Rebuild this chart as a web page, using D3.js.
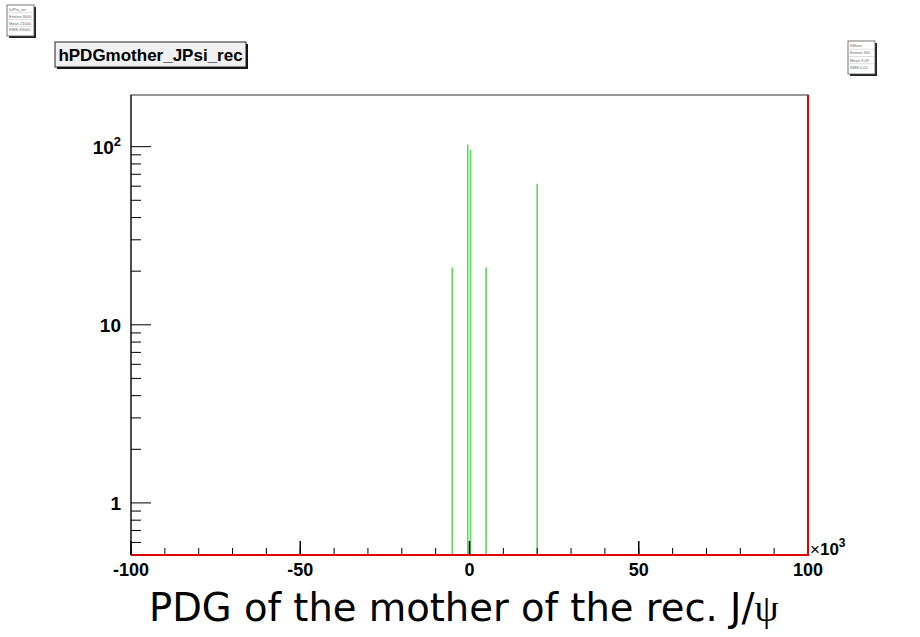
<!DOCTYPE html>
<html>
<head>
<meta charset="utf-8">
<script src="https://cdn.jsdelivr.net/npm/d3@7"></script>
<style>
  body { margin: 0; background: #fff; }
  svg { display: block; }
</style>
</head>
<body>
<div id="chart"></div>
<script>
// histogram spikes (bin centre in PDG code, entries)
const pdgCodes = [-5100, -520, 300, 4900, 20000];
const entries = [21, 103, 96, 21, 62];

const xMajorTicks = [-100000, -50000, 0, 50000, 100000];
const xTickLabels = ['-100', '-50', '0', '50', '100'];
const yMajorTicks = [1, 10, 100];
const yMinorTicks = [0.6, 0.7, 0.8, 0.9, 2, 3, 4, 5, 6, 7, 8, 9, 20, 30, 40, 50, 60, 70, 80, 90];

const histTitle = 'hPDGmother_JPsi_rec';

const width = 920;
const height = 637;

const margin = { top: 95, right: 112, bottom: 82, left: 131 };
const innerWidth = width - margin.left - margin.right;
const innerHeight = height - margin.top - margin.bottom;

const xScale = d3.scaleLinear()
  .domain([-100000, 100000])
  .range([0, innerWidth]);

const yScale = d3.scaleLog()
  .domain([0.51, 195])
  .range([innerHeight, 0]);

const svg = d3.select('#chart')
  .append('svg')
    .attr('width', width)
    .attr('height', height);

// little stat boxes in the corners
const statBox = (x, y, w, h, lines) => {
  const g = svg.append('g').attr('transform', `translate(${x}, ${y})`);
  g.append('rect').attr('x', 2).attr('y', 2).attr('width', w).attr('height', h).attr('fill', '#222');
  g.append('rect').attr('width', w).attr('height', h).attr('fill', '#fff').attr('stroke', '#555').attr('stroke-width', 0.8);
  lines.forEach((t, i) => {
    g.append('text')
      .attr('x', 2)
      .attr('y', 6 + i * (h - 4) / lines.length)
      .attr('font-family', 'Liberation Sans, Arial, sans-serif')
      .attr('font-size', 4)
      .attr('fill', '#666')
      .text(t);
    if (i > 0) {
      g.append('line')
        .attr('x1', 0).attr('x2', w)
        .attr('y1', 1 + i * (h - 4) / lines.length)
        .attr('y2', 1 + i * (h - 4) / lines.length)
        .attr('stroke', '#bbb').attr('stroke-width', 0.5);
    }
  });
};

statBox(7, 5, 27, 31, ['hJPsi_rec', 'Entries 3000', 'Mean 21000', 'RMS 33000']);
statBox(848, 41, 27, 33, ['hMass', 'Entries 300', 'Mean 3.09', 'RMS 0.02']);

// title box
const titleG = svg.append('g').attr('transform', 'translate(55, 42)');
titleG.append('rect')
  .attr('x', 2).attr('y', 2).attr('width', 191).attr('height', 25)
  .attr('fill', '#111');
titleG.append('rect')
  .attr('width', 191).attr('height', 25)
  .attr('fill', '#f0f0f0').attr('stroke', '#222').attr('stroke-width', 1);
titleG.append('text')
  .attr('x', 95.5)
  .attr('y', 19)
  .attr('text-anchor', 'middle')
  .attr('font-family', 'Liberation Sans, Arial, sans-serif')
  .attr('font-weight', 'bold')
  .attr('font-size', 17)
  .text(histTitle);

const inner = svg.append('g')
  .attr('transform', `translate(${margin.left}, ${margin.top})`);

// frame
inner.append('rect')
  .attr('width', innerWidth)
  .attr('height', innerHeight)
  .attr('fill', '#fff')
  .attr('stroke', '#333')
  .attr('stroke-width', 1);

// green spikes
inner.selectAll('.spike')
  .data(pdgCodes)
  .enter().append('line')
    .attr('class', 'spike')
    .attr('x1', d => xScale(d))
    .attr('x2', d => xScale(d))
    .attr('y1', innerHeight)
    .attr('y2', (d, i) => yScale(entries[i]))
    .attr('stroke', '#5ed65e')
    .attr('stroke-width', 1.6);

// x axis ticks
const xMinor = d3.range(-100000, 100001, 10000);
inner.selectAll('.xminor')
  .data(xMinor)
  .enter().append('line')
    .attr('x1', d => xScale(d)).attr('x2', d => xScale(d))
    .attr('y1', innerHeight).attr('y2', innerHeight - 7)
    .attr('stroke', '#000').attr('stroke-width', 1);

inner.selectAll('.xmajor')
  .data(xMajorTicks)
  .enter().append('line')
    .attr('x1', d => xScale(d)).attr('x2', d => xScale(d))
    .attr('y1', innerHeight).attr('y2', innerHeight - 14)
    .attr('stroke', '#000').attr('stroke-width', 1.5);

// red histogram outline (empty bins + overflow edge), drawn over the axis line
inner.append('path')
  .attr('d', `M0,${yScale(0.51)} L${xScale(100000)},${yScale(0.51)} L${xScale(100000)},${yScale(195)}`)
  .attr('fill', 'none')
  .attr('stroke', '#e00000')
  .attr('stroke-width', 2);

inner.selectAll('.xlabel')
  .data(xMajorTicks)
  .enter().append('text')
    .attr('x', d => xScale(d))
    .attr('y', innerHeight + 21)
    .attr('text-anchor', 'middle')
    .attr('font-family', 'Liberation Sans, Arial, sans-serif')
    .attr('font-weight', 'bold')
    .attr('font-size', 18)
    .text((d, i) => xTickLabels[i]);

// x10^3 multiplier
const mult = inner.append('text')
  .attr('x', innerWidth + 2)
  .attr('y', innerHeight)
  .attr('font-family', 'Liberation Sans, Arial, sans-serif')
  .attr('font-size', 17);
mult.append('tspan').text('\u00d7');
mult.append('tspan').attr('font-weight', 'bold').text('10');
mult.append('tspan').attr('font-weight', 'bold').attr('font-size', 12).attr('dy', -8).text('3');

// y axis
inner.append('line')
  .attr('x1', 0).attr('x2', 0)
  .attr('y1', 0).attr('y2', innerHeight)
  .attr('stroke', '#000');

inner.selectAll('.yminor')
  .data(yMinorTicks)
  .enter().append('line')
    .attr('x1', 0).attr('x2', 10)
    .attr('y1', d => yScale(d)).attr('y2', d => yScale(d))
    .attr('stroke', '#000');

inner.selectAll('.ymajor')
  .data(yMajorTicks)
  .enter().append('line')
    .attr('x1', 0).attr('x2', 20)
    .attr('y1', d => yScale(d)).attr('y2', d => yScale(d))
    .attr('stroke', '#000');

const yLabels = inner.selectAll('.ylabel')
  .data(yMajorTicks)
  .enter().append('text')
    .attr('x', -10)
    .attr('y', d => yScale(d) + 7)
    .attr('text-anchor', 'end')
    .attr('font-family', 'Liberation Sans, Arial, sans-serif')
    .attr('font-weight', 'bold')
    .attr('font-size', 19);

yLabels.each(function (d) {
  const t = d3.select(this);
  if (d >= 100) {
    t.append('tspan').text('10');
    t.append('tspan').attr('font-size', 13).attr('dy', -8).text(Math.round(Math.log10(d)));
  } else {
    t.text(d);
  }
});

// x axis title
const xTitle = svg.append('text')
  .attr('x', 149)
  .attr('y', 621)
  .attr('font-family', 'DejaVu Sans, Verdana, sans-serif')
  .attr('font-size', 38.5)
  .attr('fill', '#000');
xTitle.append('tspan').text('PDG of the mother of the rec. J/');
xTitle.append('tspan').attr('font-family', 'Liberation Serif, Times New Roman, serif').text('\u03c8');
</script>
</body>
</html>
